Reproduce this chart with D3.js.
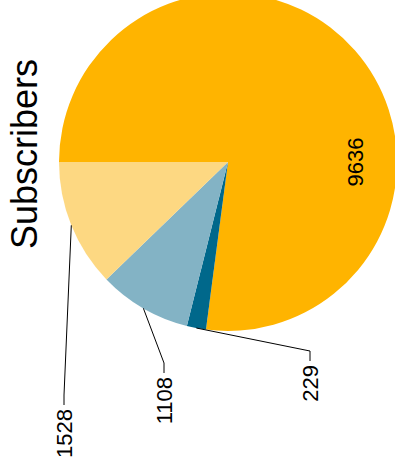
<!DOCTYPE html>
<html>
<head>
<meta charset="utf-8">
<script src="https://cdn.jsdelivr.net/npm/d3@7"></script>
<style>
  html, body { margin: 0; padding: 0; background: #fff; }
  svg { display: block; }
  text { font-family: "Liberation Sans", Arial, Helvetica, sans-serif; fill: #000; }
</style>
</head>
<body>
<script>
// Subscriber counts per slice, in drawing order (clockwise from the start angle)
const title = "Subscribers";
const values = [9636, 229, 1108, 1528];
const sliceColors = ["#FFB400", "#00688B", "#83B3C5", "#FDD882"];

// Layout
const W = 395, H = 476;
const cx = 228, cy = 162, R = 169;
const insideLabelAngle = Math.PI, insideLabelRadius = 127;
// elbow points of the callout lines (in the turned frame), null = label inside slice
const calloutElbows = [null, { x: -189, y: 82 }, { x: -201, y: -64 }, { x: -233, y: -164 }];
const calloutRun = 10, calloutGap = 4;

const svg = d3.select("body").append("svg")
  .attr("width", W)
  .attr("height", H);

// The whole chart is laid out in a frame turned a quarter turn counter-clockwise
const g = svg.append("g")
  .attr("transform", `translate(${cx},${cy}) rotate(-90)`);

const pie = d3.pie().sort(null).value(d => d);
const arcs = pie(values);
const arc = d3.arc().innerRadius(0).outerRadius(R);
const rimArc = d3.arc().innerRadius(R).outerRadius(R);

g.selectAll("path.slice")
  .data(arcs)
  .join("path")
  .attr("class", "slice")
  .attr("d", arc)
  .attr("fill", (d, i) => sliceColors[i]);

// Title above the pie
g.append("text")
  .attr("x", 8)
  .attr("y", -191)
  .attr("text-anchor", "middle")
  .style("font-size", "36px")
  .text(title);

// Label inside the large slice
const inLabelArc = d3.arc().innerRadius(insideLabelRadius).outerRadius(insideLabelRadius);
arcs.forEach((d, i) => {
  const elbow = calloutElbows[i];
  if (!elbow) {
    const p = inLabelArc.centroid({ startAngle: insideLabelAngle, endAngle: insideLabelAngle });
    g.append("text")
      .attr("x", p[0])
      .attr("y", p[1])
      .attr("text-anchor", "middle")
      .attr("dominant-baseline", "central")
      .style("font-size", "22px")
      .text(d.data);
    return;
  }
  const start = rimArc.centroid(d);
  const end = [elbow.x - calloutRun, elbow.y];
  g.append("path")
    .attr("d", d3.line()([start, [elbow.x, elbow.y], end]))
    .attr("fill", "none")
    .attr("stroke", "#000")
    .attr("stroke-width", 1);
  g.append("text")
    .attr("x", end[0] - calloutGap)
    .attr("y", end[1])
    .attr("text-anchor", "end")
    .attr("dominant-baseline", "central")
    .style("font-size", "22px")
    .text(d.data);
});
</script>
</body>
</html>
